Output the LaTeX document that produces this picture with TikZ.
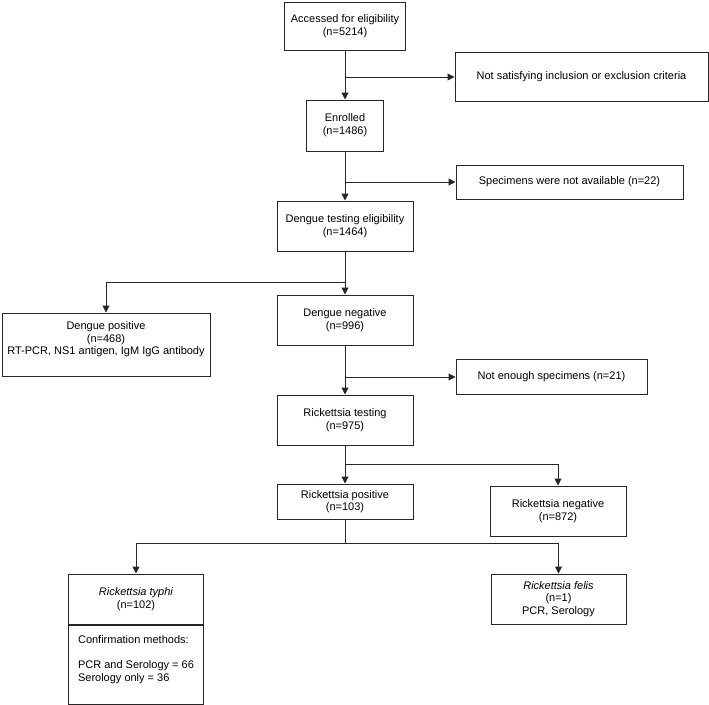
\documentclass[tikz,border=0pt]{standalone}
\usepackage{fontspec}
\setmainfont{Liberation Sans}
\usetikzlibrary{arrows.meta,positioning}

\begin{document}
\begin{tikzpicture}[x=1pt, y=-1pt,
  box/.style={rectangle, draw=black!85, line width=1pt, align=center,
              inner sep=2pt, font=\fontsize{11}{12.7}\selectfont},
  arrow/.style={-{Triangle[length=7pt,width=7pt]}, line width=1pt, draw=black!85},
  link/.style={line width=1pt, draw=black!85}
]
\useasboundingbox (0,0) rectangle (709,704);

% main column
\node[box, minimum width=121pt, minimum height=48pt] (acc) at (345,26)
  {Accessed for eligibility\\(n=5214)};
\node[box, minimum width=77pt, minimum height=51pt] (enr) at (345,125.5)
  {Enrolled\\(n=1486)};
\node[box, minimum width=136pt, minimum height=50pt] (dte) at (345,226)
  {Dengue testing eligibility\\(n=1464)};
\node[box, minimum width=136pt, minimum height=50pt] (dneg) at (345,320)
  {Dengue negative\\(n=996)};
\node[box, minimum width=136pt, minimum height=50pt] (rtest) at (345,420)
  {Rickettsia testing\\(n=975)};
\node[box, minimum width=136pt, minimum height=35pt] (rpos) at (345,501.5)
  {Rickettsia positive\\(n=103)};

% side boxes
\node[box, minimum width=253pt, minimum height=49pt] (excl) at (581.5,76.5)
  {Not satisfying inclusion or exclusion criteria};
\node[box, minimum width=227pt, minimum height=34pt] (spec) at (569.5,182)
  {Specimens were not available (n=22)};
\node[box, minimum width=208pt, minimum height=63pt] (dpos) at (106,344.5)
  {Dengue positive\\(n=468)\\RT-PCR, NS1 antigen, IgM IgG antibody\\\mbox{}};
\node[box, minimum width=191pt, minimum height=35pt] (noen) at (551.5,376.5)
  {Not enough specimens (n=21)};
\node[box, minimum width=136pt, minimum height=50pt] (rneg) at (558,511)
  {Rickettsia negative\\(n=872)};

% species
\node[box, minimum width=135pt, minimum height=50pt] (typhi) at (136,599)
  {\textit{Rickettsia typhi}\\(n=102)};
\node[box, minimum width=135pt, minimum height=79pt, align=left,
      below=0pt of typhi] (conf)
  {Confirmation methods:\\[12.7pt]PCR and Serology = 66\\Serology only = 36\\\mbox{}};
\node[box, minimum width=135pt, minimum height=50pt] (felis) at (558.5,599)
  {\textit{Rickettsia felis}\\(n=1)\\PCR, Serology};

% branch points
\coordinate (b1) at (345,77);
\coordinate (b2) at (345,182);
\coordinate (b3) at (345,282);
\coordinate (b4) at (345,377);
\coordinate (b5) at (345,464);
\coordinate (b6) at (345,543);

\draw[arrow] (acc.south) -- (enr.north);
\draw[arrow] (b1) -- (b1 -| excl.west);
\draw[arrow] (enr.south) -- (dte.north);
\draw[arrow] (b2) -- (b2 -| spec.west);
\draw[arrow] (dte.south) -- (dneg.north);
\draw[arrow] (b3) -| (dpos.north);
\draw[arrow] (dneg.south) -- (rtest.north);
\draw[arrow] (b4) -- (b4 -| noen.west);
\draw[arrow] (rtest.south) -- (rpos.north);
\draw[arrow] (b5) -| (rneg.north);
\draw[link] (rpos.south) -- (b6);
\draw[arrow] (b6) -| (typhi.north);
\draw[arrow] (b6) -| (felis.north);

\end{tikzpicture}
\end{document}
